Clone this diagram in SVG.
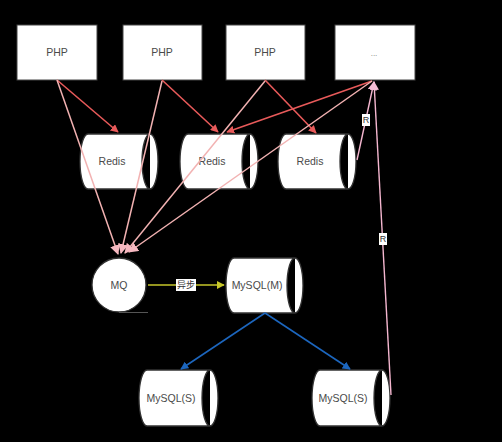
<svg xmlns="http://www.w3.org/2000/svg" width="502" height="442" viewBox="0 0 502 442">
<style>
.box{fill:#ffffff;stroke:#444444;stroke-width:1}
.cyl{fill:#ffffff;stroke:#333333;stroke-width:1.3}
.t{font-family:"Liberation Sans",Arial,sans-serif;font-size:10.5px;fill:#4a4a4a;text-anchor:middle;dominant-baseline:central}
.lbl{font-family:"Liberation Sans","Noto Sans CJK SC",Arial,sans-serif;font-size:9px;fill:#333333;text-anchor:middle;dominant-baseline:central}
.red{stroke:#e85a5a;stroke-width:1.6;fill:none;marker-end:url(#mRed)}
.pk{stroke:#f2b2b2;stroke-width:1.5;fill:none;marker-end:url(#mPk)}
.pr{stroke:#f4b6cf;stroke-width:1.4;fill:none;marker-end:url(#mPr)}
.yl{stroke:#c6c62a;stroke-width:1.6;fill:none;marker-end:url(#mYl)}
.bl{stroke:#1c66be;stroke-width:1.6;fill:none;marker-end:url(#mBl)}
</style>
<defs>
<marker id="mRed" viewBox="0 0 10 10" refX="9" refY="5" markerWidth="8" markerHeight="8" markerUnits="userSpaceOnUse" orient="auto"><path d="M0,0 L10,5 L0,10 z" fill="#e85a5a"/></marker>
<marker id="mPk" viewBox="0 0 10 10" refX="9" refY="5" markerWidth="10" markerHeight="10" markerUnits="userSpaceOnUse" orient="auto"><path d="M0,0 L10,5 L0,10 z" fill="#f6b8c0"/></marker>
<marker id="mPr" viewBox="0 0 10 10" refX="9" refY="5" markerWidth="9" markerHeight="9" markerUnits="userSpaceOnUse" orient="auto"><path d="M0,0 L10,5 L0,10 z" fill="#f6bcd4"/></marker>
<marker id="mYl" viewBox="0 0 10 10" refX="9" refY="5" markerWidth="8" markerHeight="8" markerUnits="userSpaceOnUse" orient="auto"><path d="M0,0 L10,5 L0,10 z" fill="#c6c62a"/></marker>
<marker id="mBl" viewBox="0 0 10 10" refX="9" refY="5" markerWidth="8" markerHeight="8" markerUnits="userSpaceOnUse" orient="auto"><path d="M0,0 L10,5 L0,10 z" fill="#1c66be"/></marker>
</defs>
<rect width="502" height="442" fill="#000000"/>

<g id="php1"><rect class="box" x="17" y="25" width="80" height="55"/><text class="t" x="57" y="52">PHP</text></g>
<g id="php2"><rect class="box" x="123" y="25" width="79" height="55"/><text class="t" x="162" y="52">PHP</text></g>
<g id="php3"><rect class="box" x="226" y="25" width="79" height="55"/><text class="t" x="265" y="52">PHP</text></g>
<g id="more"><rect class="box" x="335" y="25" width="80" height="55"/><text class="t" x="374" y="53" style="font-size:8px;fill:#777">...</text></g>

<g id="redis1"><path class="cyl" d="M88,134 L150,134 A8,27.5 0 0 1 150,189 L88,189 A8,27.5 0 0 1 88,134 Z M150,134 A8,27.5 0 0 0 150,189"/><text class="t" x="112" y="161">Redis</text></g>
<g id="redis2"><path class="cyl" d="M188,134 L250,134 A8,27.5 0 0 1 250,189 L188,189 A8,27.5 0 0 1 188,134 Z M250,134 A8,27.5 0 0 0 250,189"/><text class="t" x="212" y="161">Redis</text></g>
<g id="redis3"><path class="cyl" d="M286,134 L348,134 A8,27.5 0 0 1 348,189 L286,189 A8,27.5 0 0 1 286,134 Z M348,134 A8,27.5 0 0 0 348,189"/><text class="t" x="310" y="161">Redis</text></g>

<g id="mq"><circle class="cyl" cx="119" cy="285" r="27"/><line x1="119" y1="312.5" x2="148" y2="312.5" stroke="#555555" stroke-width="1"/><text class="t" x="119" y="285">MQ</text></g>
<g id="mysqlm"><path class="cyl" d="M234,258 L295,258 A8,27.5 0 0 1 295,313 L234,313 A8,27.5 0 0 1 234,258 Z M295,258 A8,27.5 0 0 0 295,313"/><text class="t" x="257" y="285">MySQL(M)</text></g>
<g id="mysqls1"><path class="cyl" d="M147,370 L210,370 A8,28 0 0 1 210,426 L147,426 A8,28 0 0 1 147,370 Z M210,370 A8,28 0 0 0 210,426"/><text class="t" x="171" y="398">MySQL(S)</text></g>
<g id="mysqls2"><path class="cyl" d="M320,370 L382,370 A8,28 0 0 1 382,426 L320,426 A8,28 0 0 1 320,370 Z M382,370 A8,28 0 0 0 382,426"/><text class="t" x="343" y="398">MySQL(S)</text></g>

<g id="connectors">
<line class="red" x1="57" y1="80" x2="118" y2="132"/>
<line class="red" x1="162" y1="80" x2="218" y2="132"/>
<line class="red" x1="265" y1="80" x2="316" y2="133"/>
<line class="red" x1="372" y1="81" x2="227" y2="132"/>
<line class="pk" x1="57" y1="80" x2="118" y2="254"/>
<line class="pk" x1="162" y1="81" x2="121" y2="253"/>
<line class="pk" x1="265" y1="81" x2="125" y2="253"/>
<line class="pk" x1="372" y1="81" x2="129" y2="252"/>
<line class="pr" x1="357" y1="160" x2="374" y2="82"/>
<line class="pr" x1="391" y1="395" x2="374" y2="82"/>
<line class="yl" x1="148" y1="285" x2="224" y2="285"/>
<line class="bl" x1="265" y1="313" x2="181" y2="369"/>
<line class="bl" x1="265" y1="313" x2="350" y2="369"/>
<rect x="362" y="114" width="8" height="12" fill="#ffffff"/><text class="lbl" x="366" y="120">R</text>
<rect x="379" y="233" width="8" height="12" fill="#ffffff"/><text class="lbl" x="383" y="239">R</text>
<rect x="176" y="279" width="20" height="12" fill="#ffffff"/><text class="lbl" x="186" y="285">异步</text>
</g>
</svg>
